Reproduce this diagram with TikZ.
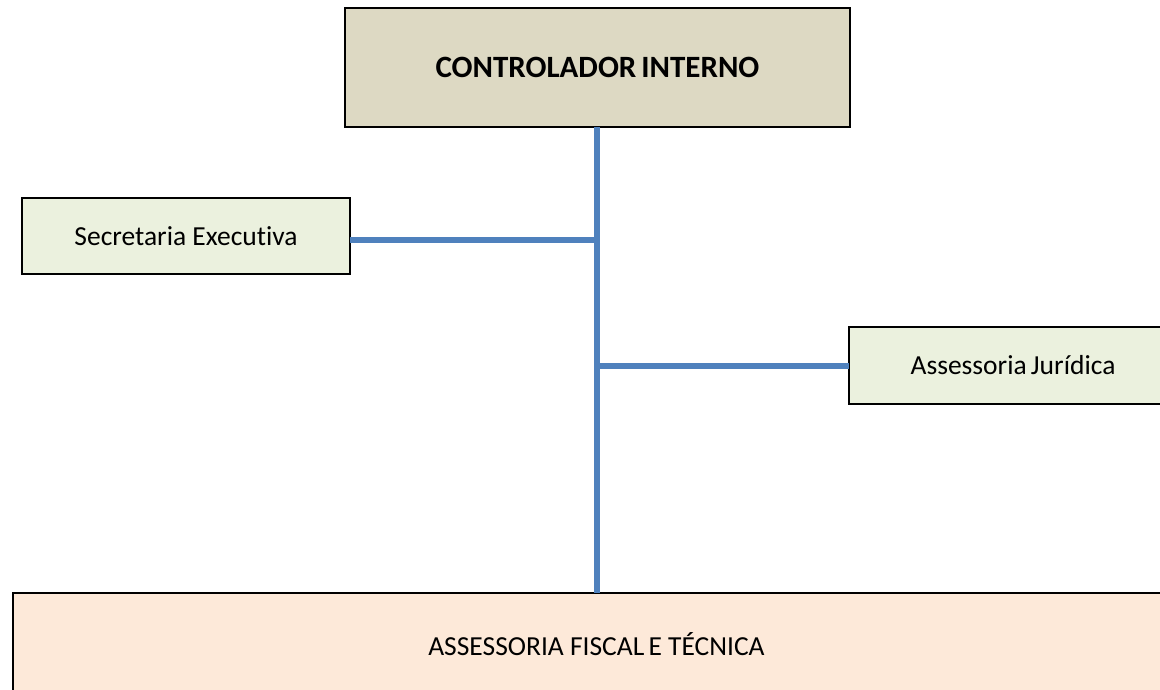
\documentclass[tikz,border=0pt]{standalone}
\usepackage{fontspec}
\setmainfont[Ligatures=NoCommon]{Carlito}
\definecolor{cibg}{HTML}{DDD9C3}
\definecolor{subbg}{HTML}{EBF1DE}
\definecolor{botbg}{HTML}{FDE9D9}
\definecolor{conn}{HTML}{4F81BD}
\tikzset{
  box/.style={draw=black, line width=1.6pt, rectangle, inner sep=0pt, outer sep=0pt, text=black},
  link/.style={draw=conn, line width=6pt},
  txt/.style={font=\fontsize{27.5}{33}\selectfont}
}
\begin{document}
\begin{tikzpicture}[x=1pt,y=-1pt]
\useasboundingbox (0,0) rectangle (1160,690);
\clip (0,0) rectangle (1160,690);
\fill[white] (0,0) rectangle (1160,690);
\node[box, fill=cibg, minimum width=505pt, minimum height=119pt,
      font=\fontsize{31}{37}\selectfont\bfseries] (ci) at (597.5,67.5) {CONTROLADOR\hspace{-2pt} INTERNO};
\node[box, fill=subbg, minimum width=328pt, minimum height=76pt, txt] (sec) at (186,236) {Secretaria Executiva};
\node[box, fill=subbg, minimum width=328pt, minimum height=77pt, txt] (jur) at (1013,365.5) {Assessoria\hspace{-2pt} Jurídica};
\node[box, fill=botbg, minimum width=1167pt, minimum height=102pt, txt] (aft) at (596.5,644) {ASSESSORIA FISCAL\hspace{-2pt} E TÉCNICA};
\coordinate (j1) at (597,239.5);
\coordinate (j2) at (597,366);
\draw[link] (ci.south -| j1) -- (aft.north -| j1);
\draw[link] (sec.east |- j1) -- (j1);
\draw[link] (j2) -- (jur.west |- j2);
\end{tikzpicture}
\end{document}
